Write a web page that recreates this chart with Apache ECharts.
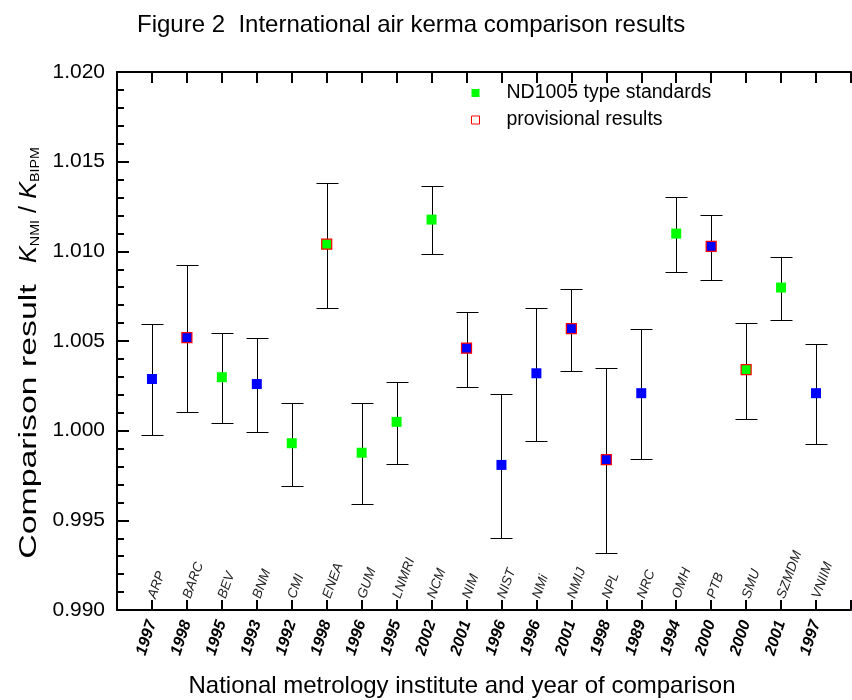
<!DOCTYPE html>
<html><head><meta charset="utf-8">
<script src="https://cdn.jsdelivr.net/npm/echarts@6/dist/echarts.min.js"></script>
<style>html,body{margin:0;padding:0;background:#fff}#c{width:852px;height:700px}</style>
</head><body><div id="c"></div>
<script>
const institutes = ['ARP','BARC','BEV','BNM','CMI','ENEA','GUM','LNMRI','NCM','NIM','NIST','NMi','NMIJ','NPL','NRC','OMH','PTB','SMU','SZMDM','VNIIM'];
const years = ['1997','1998','1995','1993','1992','1998','1996','1995','2002','2001','1996','1996','2001','1998','1989','1994','2000','2000','2001','1997'];
const results = [1.00288,1.00519,1.00298,1.00260,0.99930,1.01040,0.99877,1.00049,1.01177,1.00460,0.99809,1.00320,1.00569,0.99838,1.00209,1.01099,1.01028,1.00340,1.00798,1.00209];
const upper = [1.00593,1.00924,1.00543,1.00515,1.00154,1.01381,1.00154,1.00273,1.01363,1.00664,1.00205,1.00684,1.00792,1.00351,1.00566,1.01303,1.01203,1.00602,1.00970,1.00484];
const lower = [0.99974,1.00106,1.00043,0.99993,0.99693,1.00684,0.99593,0.99814,1.00984,1.00242,0.99403,0.99943,1.00335,0.99316,0.99844,1.00885,1.00842,1.00065,1.00616,0.99924];
const nd1005 = [0,0,1,0,1,1,1,1,1,0,0,0,0,0,0,1,0,1,1,0];
const provisional = [0,1,0,0,0,1,0,0,0,1,0,0,1,1,0,0,1,1,0,0];
const yMin = 0.990, yMax = 1.020, yStep = 0.005;

const FONT = "'Liberation Sans', Arial, sans-serif";
const chart = echarts.init(document.getElementById('c'), null, {renderer: 'canvas'});

const errData = institutes.map((n, i) => [i + 1, lower[i], upper[i]]);
const greenData = [], blueData = [], provData = [];
institutes.forEach((n, i) => {
  const p = [i + 1, results[i]];
  if (nd1005[i]) greenData.push(p); else blueData.push(p);
  if (provisional[i]) provData.push(p);
});

const xBase = {type: 'value', min: 0, max: institutes.length + 1, interval: 1, splitLine: {show: false}};

chart.setOption({
  animation: false,
  backgroundColor: '#fff',
  textStyle: {fontFamily: FONT},
  title: {
    text: 'Figure 2  International air kerma comparison results',
    left: 132, top: 8,
    textStyle: {fontFamily: FONT, fontSize: 24, fontWeight: 'normal', color: '#000'}
  },
  grid: {left: 117, top: 72, bottom: 90, right: -10.5, containLabel: false},
  legend: {
    orient: 'vertical', left: 466, top: 78, itemGap: 7,
    itemWidth: 8, itemHeight: 8, icon: 'rect',
    textStyle: {fontFamily: FONT, fontSize: 19.5, color: '#000', padding: [0, 0, 0, 22]},
    data: [
      {name: 'ND1005 type standards', itemStyle: {color: '#00ff00', borderWidth: 0}},
      {name: 'provisional results', itemStyle: {color: '#fff', borderColor: '#ff0000', borderWidth: 1}}
    ]
  },
  xAxis: [
    Object.assign({}, xBase, {
      position: 'bottom',
      axisLine: {show: true, onZero: false, lineStyle: {color: '#000', width: 2}},
      axisTick: {show: true, inside: true, length: 10, lineStyle: {color: '#000', width: 2}},
      axisLabel: {
        show: true, rotate: 72, margin: 11,
        fontFamily: FONT, fontSize: 16, fontWeight: 'bold', fontStyle: 'italic', color: '#000',
        formatter: v => years[v - 1] || ''
      }
    }),
    Object.assign({}, xBase, {
      position: 'bottom',
      axisLine: {show: false, onZero: false},
      axisTick: {show: false},
      axisLabel: {
        show: true, inside: true, rotate: 70, margin: 12,
        fontFamily: FONT, fontSize: 13.5, fontStyle: 'italic', color: '#222',
        formatter: v => institutes[v - 1] || ''
      }
    }),
    Object.assign({}, xBase, {
      position: 'top',
      axisLine: {show: true, onZero: false, lineStyle: {color: '#000', width: 2}},
      axisTick: {show: true, inside: true, length: 11, lineStyle: {color: '#000', width: 2}},
      axisLabel: {show: false}
    })
  ],
  yAxis: [{
    type: 'value', min: yMin, max: yMax, interval: yStep,
    axisLine: {show: true, lineStyle: {color: '#000', width: 2}},
    axisTick: {show: true, inside: true, length: 12, lineStyle: {color: '#000', width: 2}},
    minorTick: {show: true, splitNumber: 5, length: 7, lineStyle: {color: '#000', width: 2}},
    splitLine: {show: false},
    axisLabel: {fontFamily: FONT, fontSize: 21, color: '#000', margin: 12, formatter: v => v.toFixed(3)}
  }],
  graphic: [
    {
      type: 'text', x: 30, y: 421.5, rotation: Math.PI / 2, scaleX: 1.47,
      style: {
        text: 'Comparison result',
        align: 'center', verticalAlign: 'middle', fill: '#000',
        font: "23px 'Liberation Sans', Arial, sans-serif"
      }
    },
    {
      type: 'text', x: 30, y: 205, rotation: Math.PI / 2, scaleX: 1.1,
      style: {
        text: '{k|K}{s|NMI}{a| / }{k|K}{s|BIPM}',
        align: 'center', verticalAlign: 'middle', fill: '#000',
        rich: {
          a: {fontFamily: FONT, fontSize: 23, fill: '#000', verticalAlign: 'bottom'},
          k: {fontFamily: FONT, fontSize: 23, fontStyle: 'italic', fill: '#000', verticalAlign: 'bottom'},
          s: {fontFamily: FONT, fontSize: 13, fill: '#000', verticalAlign: 'bottom'}
        }
      }
    },
    {
      type: 'text', x: 462, y: 686,
      style: {
        text: 'National metrology institute and year of comparison',
        align: 'center', verticalAlign: 'middle', fill: '#000',
        font: "24px 'Liberation Sans', Arial, sans-serif"
      }
    }
  ],
  series: [
    {
      type: 'custom', name: 'errors', xAxisIndex: 0, yAxisIndex: 0,
      encode: {x: 0, y: [1, 2]},
      data: errData, z: 2, silent: true,
      renderItem: (params, api) => {
        const x = api.value(0);
        const lo = api.coord([x, api.value(1)]);
        const hi = api.coord([x, api.value(2)]);
        const cx = Math.round(lo[0]) + 0.5, w = 11;
        const yl = Math.round(lo[1]) + 0.5, yh = Math.round(hi[1]) + 0.5;
        const st = {stroke: '#000', lineWidth: 1};
        return {type: 'group', children: [
          {type: 'line', shape: {x1: cx, y1: yl, x2: cx, y2: yh}, style: st},
          {type: 'line', shape: {x1: cx - w, y1: yh, x2: cx + w, y2: yh}, style: st},
          {type: 'line', shape: {x1: cx - w, y1: yl, x2: cx + w, y2: yl}, style: st}
        ]};
      }
    },
    {
      type: 'scatter', name: 'other', data: blueData, symbol: 'rect', symbolSize: 10, z: 3,
      itemStyle: {color: '#0000ff', opacity: 1}
    },
    {
      type: 'scatter', name: 'ND1005 type standards', data: greenData, symbol: 'rect', symbolSize: 10, z: 3,
      itemStyle: {color: '#00ff00', opacity: 1}
    },
    {
      type: 'scatter', name: 'provisional results', data: provData, symbol: 'rect', symbolSize: 10, z: 4,
      itemStyle: {color: 'rgba(0,0,0,0)', borderColor: '#ff0000', borderWidth: 1.2, opacity: 1}
    }
  ]
});
</script></body></html>
